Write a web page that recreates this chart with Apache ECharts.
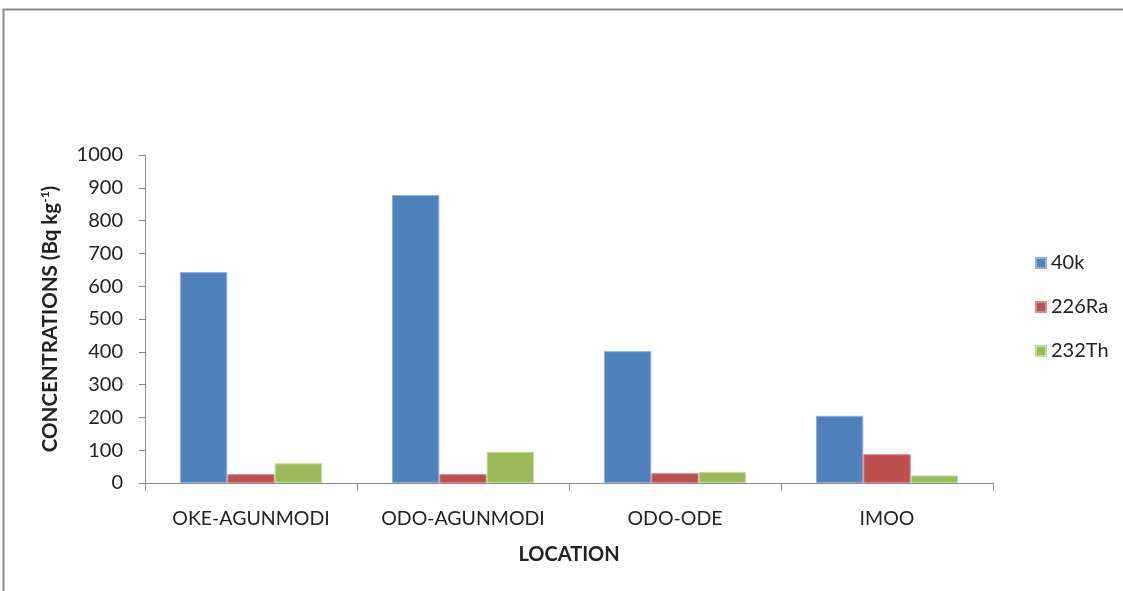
<!DOCTYPE html>
<html><head><meta charset="utf-8">
<script src="https://cdn.jsdelivr.net/npm/echarts@6/dist/echarts.min.js"></script>
<style>html,body{margin:0;padding:0;background:#fff}#c{width:1123px;height:591px}</style>
</head><body><div id="c"></div>
<script>
const categories = ['OKE-AGUNMODI', 'ODO-AGUNMODI', 'ODO-ODE', 'IMOO'];
const k40 = [643, 878, 402, 205];
const ra226 = [27, 27, 30, 88];
const th232 = [60, 95, 34, 23];
const yTicks = [0, 100, 200, 300, 400, 500, 600, 700, 800, 900, 1000];

const FONT = 'Lato, "Open Sans", sans-serif';
const chart = echarts.init(document.getElementById('c'));
chart.setOption({
  animation: false,
  backgroundColor: '#fff',
  textStyle: { fontFamily: FONT },
  graphic: [{
    type: 'rect', shape: { x: 3.5, y: 9.5, width: 1130, height: 600 },
    style: { fill: 'none', stroke: '#8a8a8a', lineWidth: 2 }, silent: true
  }],
  grid: { left: 145, right: 130, top: 155, bottom: 108, containLabel: false },
  legend: {
    orient: 'vertical', left: 1030, top: 248, itemGap: 24,
    itemWidth: 10, itemHeight: 10, icon: 'rect',
    textStyle: { fontSize: 20, color: '#222', fontFamily: FONT },
    data: ['40k', '226Ra', '232Th']
  },
  xAxis: {
    type: 'category', data: categories,
    axisLine: { lineStyle: { color: '#8a8a8a', width: 1 } },
    axisTick: { show: true, length: 8, interval: 0, lineStyle: { color: '#8a8a8a' } },
    axisLabel: { fontSize: 19.5, color: '#222', margin: 26, interval: 0, hideOverlap: false, fontFamily: FONT },
    name: 'LOCATION', nameLocation: 'middle', nameGap: 62,
    nameTextStyle: { fontSize: 20, fontWeight: 'bold', color: '#222', fontFamily: FONT }
  },
  yAxis: {
    type: 'value', min: 0, max: 1000, interval: 100,
    splitLine: { show: false },
    axisLine: { show: true, lineStyle: { color: '#8a8a8a', width: 1 } },
    axisTick: { show: true, length: 6, lineStyle: { color: '#8a8a8a' } },
    axisLabel: { fontSize: 20, color: '#222', margin: 22, fontFamily: FONT,
      formatter: v => yTicks.includes(v) ? String(v) : '' },
    name: '{b|CONCENTRATIONS (Bq kg}{s|-1}{b|)}', nameLocation: 'middle', nameGap: 84,
    nameTextStyle: {
      rich: {
        b: { fontSize: 20.5, fontWeight: 'bold', color: '#222', fontFamily: FONT },
        s: { fontSize: 12, fontWeight: 'bold', color: '#222', fontFamily: FONT, verticalAlign: 'top', padding: [0, 0, 10, 0] }
      }
    }
  },
  series: [
    { name: '40k', type: 'bar', data: k40, barGap: '0%', barCategoryGap: '33%',
      itemStyle: { color: '#4f81bd', borderColor: '#8fb0dc', borderWidth: 1 } },
    { name: '226Ra', type: 'bar', data: ra226, barGap: '0%', barCategoryGap: '33%',
      itemStyle: { color: '#c0504d', borderColor: '#d98a88', borderWidth: 1 } },
    { name: '232Th', type: 'bar', data: th232, barGap: '0%', barCategoryGap: '33%',
      itemStyle: { color: '#9bbb59', borderColor: '#c4dc98', borderWidth: 1 } }
  ]
});
</script></body></html>
